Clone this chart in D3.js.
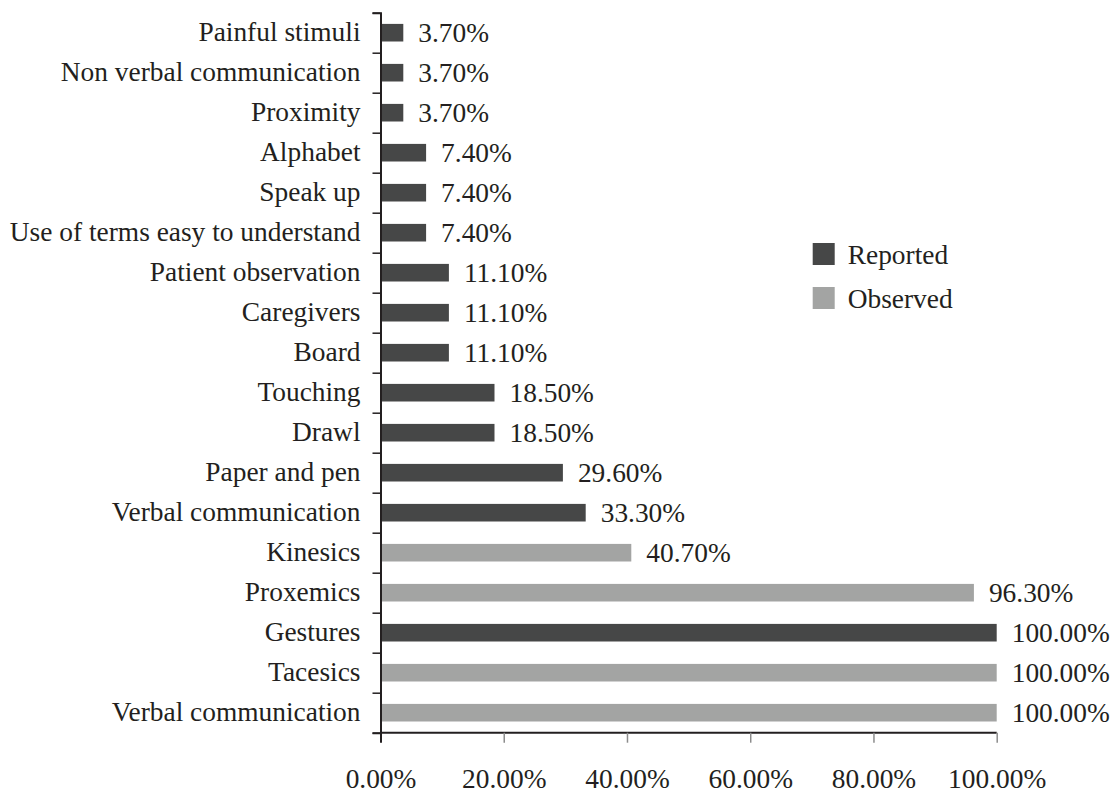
<!DOCTYPE html>
<html>
<head>
<meta charset="utf-8">
<script src="https://cdn.jsdelivr.net/npm/d3@7"></script>
<style>
  body { margin: 0; background: #fff; }
  svg { display: block; font-family: "Liberation Serif", "Times New Roman", serif; }
</style>
</head>
<body>
<div id="chart"></div>
<script>
// categories from top to bottom
const categories = [
  'Painful stimuli', 'Non verbal communication', 'Proximity', 'Alphabet', 'Speak up',
  'Use of terms easy to understand', 'Patient observation', 'Caregivers', 'Board',
  'Touching', 'Drawl', 'Paper and pen', 'Verbal communication', 'Kinesics',
  'Proxemics', 'Gestures', 'Tacesics', 'Verbal communication'
];
const values = [3.7, 3.7, 3.7, 7.4, 7.4, 7.4, 11.1, 11.1, 11.1, 18.5, 18.5, 29.6, 33.3, 40.7, 96.3, 100, 100, 100];
const groups = ['R', 'R', 'R', 'R', 'R', 'R', 'R', 'R', 'R', 'R', 'R', 'R', 'R', 'O', 'O', 'R', 'O', 'O'];
const legendKeys = ['R', 'O'];
const legendNames = ['Reported', 'Observed'];
const xTicks = [0, 20, 40, 60, 80, 100];

const width = 1111, height = 795;
const fontSize = 27.4;
const textColor = '#231f20';
const color = d3.scaleOrdinal().domain(legendKeys).range(['#464747', '#a3a4a3']);

const svg = d3.select('#chart').append('svg')
  .attr('width', width)
  .attr('height', height);

const x = d3.scaleLinear().domain([0, 100]).range([380.5, 996.7]);
const idx = d3.range(categories.length);
const y = d3.scaleBand().domain(idx).range([12.7, 732.7])
  .paddingInner(0.56).paddingOuter(0.28);
// boundaries between bands, for the tick marks
const yEdge = d3.scaleLinear().domain([0, categories.length]).range([12.7, 732.7]);

/* bars */
svg.append('g').selectAll('rect')
  .data(idx)
  .enter().append('rect')
  .attr('x', x(0))
  .attr('y', i => y(i))
  .attr('width', i => x(values[i]) - x(0))
  .attr('height', y.bandwidth())
  .attr('fill', i => color(groups[i]));

/* value labels */
svg.append('g').selectAll('text')
  .data(idx)
  .enter().append('text')
  .attr('x', i => x(values[i]) + 15)
  .attr('y', i => y(i) + y.bandwidth() / 2)
  .attr('dy', '0.35em')
  .attr('font-size', fontSize)
  .attr('fill', textColor)
  .text(i => values[i].toFixed(2) + '%');

/* y axis: line + ticks between categories */
const yAxis = svg.append('g')
  .attr('transform', `translate(${x(0)},0)`)
  .call(d3.axisLeft(yEdge).tickValues(d3.range(categories.length + 1)).tickSize(8).tickFormat(''));
yAxis.select('.domain').attr('stroke', textColor).attr('stroke-width', 2);
yAxis.selectAll('.tick line').attr('stroke', textColor).attr('stroke-width', 1.5);

/* category labels */
const yLabels = svg.append('g')
  .attr('transform', `translate(${x(0)},0)`)
  .call(d3.axisLeft(y).tickSize(0).tickPadding(20).tickFormat(i => categories[i]))
  .attr('font-family', null)
  .attr('font-size', fontSize);
yLabels.select('.domain').remove();
yLabels.selectAll('text').attr('fill', textColor);

/* x axis */
const xAxis = svg.append('g')
  .attr('transform', `translate(0,${732.7})`)
  .call(d3.axisBottom(x).tickValues(xTicks).tickSize(10).tickPadding(26)
    .tickFormat(d => d.toFixed(2) + '%'))
  .attr('font-family', null)
  .attr('font-size', fontSize);
xAxis.select('.domain').attr('stroke', textColor).attr('stroke-width', 2)
  .attr('d', `M${x(0)},0H${x(100)}`);
xAxis.selectAll('.tick line')
  .attr('stroke', d => d === 0 ? textColor : '#8c8c8c')
  .attr('stroke-width', d => d === 0 ? 2 : 1.5);
xAxis.selectAll('text').attr('fill', textColor);

/* legend */
const legend = svg.append('g').selectAll('g')
  .data(legendKeys)
  .enter().append('g')
  .attr('transform', (d, i) => `translate(812.7,${243 + i * 44})`);
legend.append('rect')
  .attr('width', 22)
  .attr('height', 22)
  .attr('fill', d => color(d));
legend.append('text')
  .attr('x', 35)
  .attr('y', 11)
  .attr('dy', '0.35em')
  .attr('font-size', fontSize)
  .attr('fill', textColor)
  .text((d, i) => legendNames[i]);
</script>
</body>
</html>
